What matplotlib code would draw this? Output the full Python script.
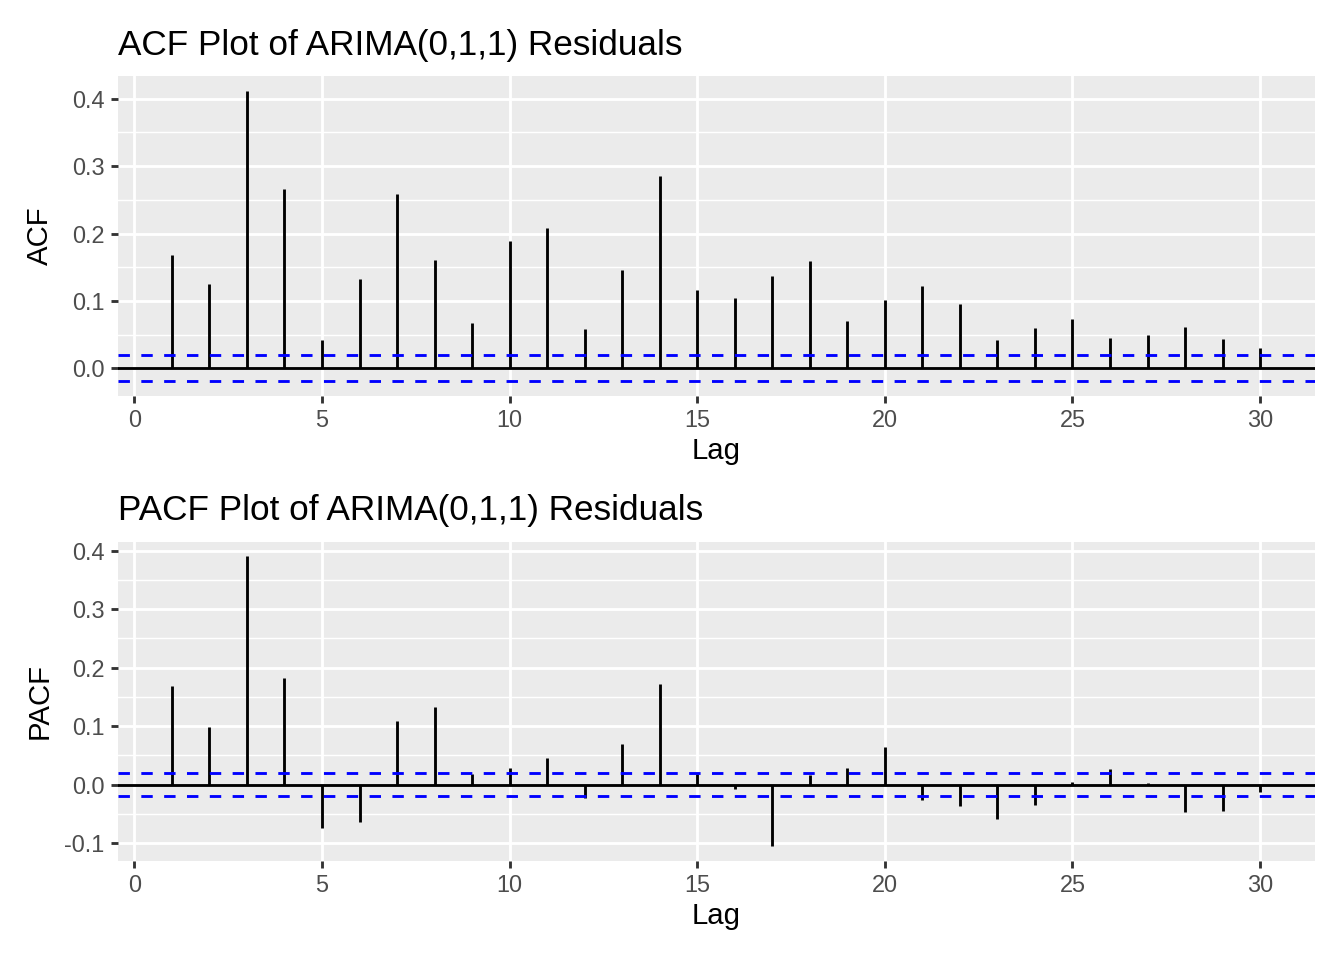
import numpy as np
import matplotlib
matplotlib.use("Agg")
import matplotlib.pyplot as plt
from matplotlib.ticker import FixedLocator, FuncFormatter

# ---- data ----
lags = list(range(1, 31))
acf_vals = [0.168, 0.125, 0.412, 0.266, 0.042, 0.132, 0.259, 0.160, 0.068, 0.189,
            0.208, 0.059, 0.146, 0.285, 0.116, 0.104, 0.137, 0.159, 0.070, 0.101,
            0.122, 0.096, 0.042, 0.060, 0.073, 0.045, 0.050, 0.061, 0.043, 0.030]
pacf_vals = [0.169, 0.099, 0.391, 0.182, -0.075, -0.064, 0.109, 0.133, 0.018, 0.029,
             0.046, -0.023, 0.070, 0.172, 0.018, -0.008, -0.105, 0.016, 0.029, 0.065,
             -0.027, -0.037, -0.059, -0.035, 0.004, 0.026, 0.002, -0.046, -0.045, -0.0125]
conf_limit = 0.0194
x_breaks = [0, 5, 10, 15, 20, 25, 30]
acf_y_breaks = [0.0, 0.1, 0.2, 0.3, 0.4]
pacf_y_breaks = [-0.1, 0.0, 0.1, 0.2, 0.3, 0.4]
titles = ["ACF Plot of ARIMA(0,1,1) Residuals", "PACF Plot of ARIMA(0,1,1) Residuals"]
ylabels = ["ACF", "PACF"]

plt.rcParams['font.family'] = ['Liberation Sans', 'DejaVu Sans']

W, H = 1344, 960
fig = plt.figure(figsize=(7, 5), dpi=192)

LW = 1.07  # ggplot 0.5 linewidth in pt
GRAY_BG = '#EBEBEB'


def px_axes(left, top, right, bottom):
    return fig.add_axes([left / W, 1 - bottom / H, (right - left) / W, (bottom - top) / H])


def draw_panel(ax, vals, ybreaks, title, ylabel, top, bottom, title_base, xlab_base):
    vals = np.asarray(vals)
    ax.set_facecolor(GRAY_BG)
    for s in ax.spines.values():
        s.set_visible(False)
    # x limits: 5% expansion of data range
    xr = max(lags) - min(lags)
    ax.set_xlim(min(lags) - 0.05 * xr, max(lags) + 0.05 * xr)
    lo = min(vals.min(), -conf_limit)
    hi = max(vals.max(), conf_limit)
    yr = hi - lo
    ax.set_ylim(lo - 0.05 * yr, hi + 0.05 * yr)

    ax.xaxis.set_major_locator(FixedLocator(x_breaks))
    ax.yaxis.set_major_locator(FixedLocator(ybreaks))
    minors = [b + 0.05 for b in ybreaks[:-1]] + [ybreaks[-1] + 0.05, ybreaks[0] - 0.05]
    ax.yaxis.set_minor_locator(FixedLocator(minors))
    ax.xaxis.set_minor_locator(FixedLocator([]))
    ax.yaxis.set_major_formatter(FuncFormatter(lambda v, p: f"{v:.1f}".replace("-0.0", "0.0")))
    ax.xaxis.set_major_formatter(FuncFormatter(lambda v, p: f"{int(round(v))}"))

    ax.grid(which='major', color='white', linewidth=LW)
    ax.grid(which='minor', axis='y', color='white', linewidth=LW / 2)
    ax.set_axisbelow(True)

    ax.tick_params(which='major', length=2.75, width=LW, color='#333333',
                   labelsize=8.8, labelcolor='#4D4D4D', pad=2.2)
    ax.tick_params(which='minor', length=0)

    ax.axhline(0, color='black', linewidth=LW, zorder=3)
    seg = ax.vlines(lags, 0, vals, color='black', linewidth=LW, zorder=3)
    seg.set_capstyle('butt')
    for c in (conf_limit, -conf_limit):
        ax.axhline(c, color='blue', linewidth=LW, linestyle=(0, (4, 4)), zorder=4)

    fig.text(117.5 / W, 1 - title_base / H, title, fontsize=13.2, color='black',
             ha='left', va='baseline')
    fig.text(716 / W, 1 - xlab_base / H, "Lag", fontsize=11, color='black',
             ha='center', va='baseline')
    fig.text(40 / W, 1 - (top + bottom) / 2 / H, ylabel, fontsize=11, color='black',
             ha='center', va='center', rotation=90)


ax1 = px_axes(117.5, 76, 1314.5, 396)
draw_panel(ax1, acf_vals, acf_y_breaks, titles[0], ylabels[0], 76, 396, 55, 459)
ax2 = px_axes(117.5, 541.5, 1314.5, 860.5)
draw_panel(ax2, pacf_vals, pacf_y_breaks, titles[1], ylabels[1], 541.5, 860.5, 520, 924)

fig.savefig("out.png", dpi=192, facecolor='white')
